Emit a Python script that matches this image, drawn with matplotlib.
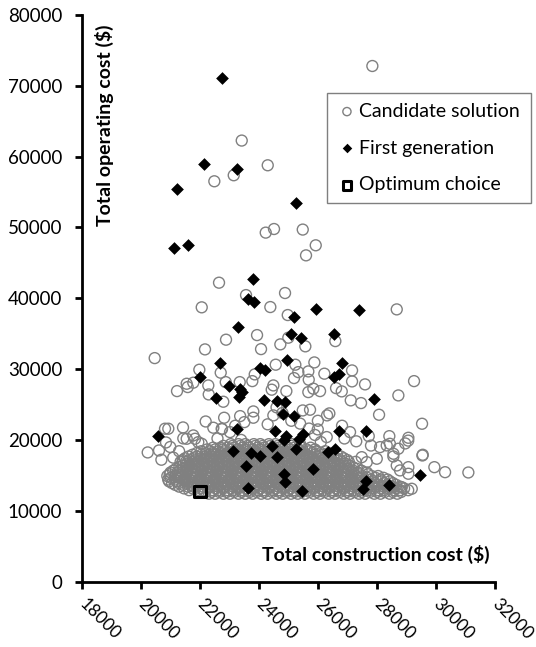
import matplotlib
matplotlib.use("Agg")
import matplotlib.pyplot as plt
import numpy as np

plt.rcParams["font.family"] = ["Lato", "DejaVu Sans"]

# first generation (black diamonds)
gen1_x = [22764, 22154, 23251, 21229, 25250, 21127, 21591, 23814, 23624, 23848,
          25948, 27395, 25203, 23306, 25081, 25430, 26558, 22696, 24966, 26819,
          24051, 24211, 26548, 26707, 22018, 22980, 23363, 23431, 23340, 22540,
          24187, 24607, 24888, 27913, 24831, 25203, 23251, 24549, 26728, 27632,
          20596, 24933, 25488, 25352, 24854, 24447, 23115, 23746, 24051, 24607,
          25261, 26356, 26582, 23567, 25827, 24854, 24888, 29452, 27643, 28421,
          27520, 23635, 25454]
gen1_y = [71120, 58920, 58310, 55390, 53510, 47110, 47580, 42670, 39850, 39420,
          38530, 38390, 37350, 35930, 35000, 34380, 34900, 30900, 31230, 30900,
          30140, 29810, 28870, 29250, 28830, 27550, 27130, 26750, 26100, 25960,
          25620, 25430, 25340, 25760, 23600, 23410, 21520, 21290, 21240, 21240,
          20530, 20530, 20770, 20160, 19920, 19170, 18410, 18130, 17700, 17560,
          18690, 18230, 18690, 16350, 15830, 15160, 14030, 15070, 14130, 13660,
          13040, 13180, 12760]

# candidate solutions, scattered ones
cand_x = [27846, 23421, 24302, 23150, 22493, 24234, 24515, 25488, 25928, 25599,
          22652, 23567, 24888, 22066, 24390, 24980, 28672,
          23940, 22889, 24729, 24999, 25576, 26592, 24075, 22177, 20473, 24573,
          25237, 25881, 21985, 22709, 23861, 25338, 25677, 26220, 27158, 25193,
          25691, 27158, 27598, 29258, 21557, 21781, 21229, 21591, 22289, 22879,
          23353, 23780, 24492, 24933, 25847, 26074, 26616, 22303, 22797, 24437,
          25677, 26809, 27114, 27463, 28727, 28073, 23367, 22825, 23814, 23814,
          24492, 25488, 25735, 26311, 26389, 29529, 20934, 21432, 22459, 22754,
          23509, 25997, 26819, 27090, 27724, 28421, 29065, 21442, 20236, 20619,
          20856, 21839, 29946, 30309, 31098, 29540, 29065, 28727, 28557, 28106,
          28332, 29180, 29060, 28960, 28440, 28560, 29553, 27995, 27656, 27486,
          28672, 28784, 29065, 28841, 28557, 20822, 21557, 21950, 22066, 21781,
          22743, 23024, 24600, 24800, 25100, 25400, 25700, 24300, 23200, 22200,
          26000, 25900, 26300, 26900, 27300, 27800, 26100, 22600, 23400, 21000,
          21300, 21100, 20700]
cand_y = [72800, 62270, 58780, 57370, 56520, 49270, 49780, 49700, 47480, 46060,
          42200, 40450, 40740, 38720, 38760, 37630, 38430,
          34800, 34150, 33490, 34430, 33210, 33950, 32820, 32780, 31550, 30620,
          30620, 30940, 29910, 29490, 29250, 29570, 29670, 29350, 29810, 28730,
          28500, 28260, 27840, 28300, 27930, 28080, 26890, 27460, 27690, 28160,
          28160, 28300, 27690, 26890, 27230, 26890, 27310, 26420, 25390, 27090,
          26750, 26850, 25580, 25200, 26280, 23550, 23360, 23130, 24020, 23130,
          23460, 24160, 24260, 23460, 23740, 22280, 21580, 21760, 21720, 21520,
          22510, 21480, 22000, 21100, 20530, 20530, 20300, 20210, 18230, 18510,
          19640, 20160, 16150, 15440, 15400, 17800, 16150, 18750, 17660, 18980,
          19220, 13100, 19900, 19500, 19450, 18040, 17900, 17340, 16860, 17560,
          16390, 15690, 15220, 13320, 13320, 21580, 20160, 19680, 19450, 20630,
          21580, 21100, 24600, 23800, 22700, 22300, 21600, 22200, 22000, 22600,
          22700, 20700, 20400, 20200, 19800, 19200, 19700, 20200, 20000, 19000,
          18400, 17500, 17200]

# candidate solutions, dense cluster read row by row
blob_rows_y = [12400, 12650, 12900, 13150, 13400, 13650, 13900, 14150, 14400, 14650,
               14900, 15150, 15400, 15650, 15900, 16150, 16400, 16650, 16900, 17150,
               17400, 17650, 17900, 18150, 18400, 18650, 18900, 19150, 19400]
blob_rows_x = [
    [22310, 22520, 22800, 23020, 23310, 23540, 23790, 24080, 24300, 24590, 24810, 25090,
     25320, 25560, 25860, 26070, 26370, 26580, 26880, 27090, 27390, 27600, 27910, 28120,
     28430, 28690],
    [22050, 22180, 22400, 22660, 22910, 23170, 23420, 23690, 23930, 24190, 24450, 24700,
     24950, 25210, 25450, 25720, 25970, 26230, 26480, 26740, 26990, 27250, 27490, 27760,
     28010, 28270, 28540, 28820],
    [21640, 21920, 22130, 22430, 22650, 22940, 23150, 23450, 23660, 23960, 24170, 24470,
     24680, 24980, 25190, 25490, 25700, 26000, 26210, 26510, 26720, 27020, 27230, 27540,
     27740, 28050, 28250, 28560, 28790, 29060],
    [21470, 21760, 22020, 22270, 22540, 22790, 23040, 23300, 23560, 23810, 24060, 24320,
     24580, 24830, 25080, 25340, 25600, 25850, 26100, 26360, 26620, 26870, 27120, 27380,
     27640, 27890, 28140, 28400, 28660, 28920],
    [21300, 21600, 21810, 22110, 22320, 22620, 22830, 23130, 23340, 23640, 23850, 24150,
     24360, 24660, 24870, 25170, 25380, 25680, 25890, 26190, 26400, 26700, 26910, 27210,
     27420, 27720, 27930, 28230, 28470, 28780],
    [21170, 21440, 21700, 21950, 22210, 22460, 22720, 22970, 23230, 23480, 23740, 23990,
     24250, 24500, 24760, 25010, 25270, 25520, 25780, 26030, 26290, 26540, 26800, 27050,
     27310, 27560, 27820, 28080, 28360, 28650],
    [21060, 21290, 21580, 21790, 22090, 22300, 22600, 22810, 23110, 23320, 23620, 23830,
     24130, 24340, 24640, 24850, 25150, 25360, 25660, 25870, 26170, 26380, 26680, 26890,
     27190, 27400, 27700, 27920, 28250, 28540],
    [20960, 21230, 21490, 21740, 22000, 22250, 22510, 22760, 23020, 23270, 23530, 23780,
     24040, 24290, 24550, 24800, 25060, 25310, 25570, 25820, 26080, 26330, 26590, 26840,
     27100, 27350, 27610, 27870, 28160, 28440],
    [20930, 21160, 21450, 21660, 21960, 22170, 22470, 22680, 22980, 23190, 23490, 23700,
     24000, 24210, 24510, 24720, 25020, 25230, 25530, 25740, 26040, 26250, 26550, 26760,
     27060, 27270, 27570, 27800, 28120, 28360],
    [21020, 21290, 21540, 21800, 22050, 22310, 22560, 22820, 23070, 23330, 23580, 23840,
     24090, 24350, 24600, 24860, 25110, 25370, 25620, 25880, 26130, 26390, 26640, 26900,
     27150, 27410, 27670, 27950, 28220],
    [20900, 21170, 21380, 21680, 21890, 22190, 22400, 22700, 22910, 23210, 23420, 23720,
     23930, 24230, 24440, 24740, 24950, 25250, 25460, 25760, 25970, 26270, 26480, 26780,
     26990, 27290, 27510, 27820, 28040],
    [20980, 21270, 21520, 21780, 22030, 22290, 22540, 22800, 23050, 23310, 23560, 23820,
     24070, 24330, 24580, 24840, 25090, 25350, 25600, 25860, 26110, 26370, 26620, 26880,
     27130, 27400, 27700],
    [21010, 21240, 21530, 21750, 22040, 22260, 22550, 22770, 23060, 23280, 23570, 23790,
     24080, 24300, 24590, 24810, 25100, 25320, 25610, 25830, 26120, 26340, 26630, 26850,
     27140, 27360, 27660],
    [21100, 21330, 21590, 21840, 22100, 22350, 22610, 22860, 23120, 23370, 23630, 23880,
     24140, 24390, 24650, 24900, 25160, 25410, 25670, 25920, 26180, 26430, 26690, 26940,
     27200, 27480],
    [21190, 21420, 21710, 21930, 22220, 22440, 22730, 22950, 23240, 23460, 23750, 23970,
     24260, 24480, 24770, 24990, 25280, 25500, 25790, 26010, 26300, 26520, 26810, 27030,
     27330],
    [21310, 21560, 21820, 22070, 22330, 22580, 22840, 23090, 23350, 23600, 23860, 24110,
     24370, 24620, 24880, 25130, 25390, 25640, 25900, 26150, 26410, 26660, 26920, 27190],
    [21430, 21650, 21950, 22160, 22460, 22670, 22970, 23180, 23480, 23690, 23990, 24200,
     24500, 24710, 25010, 25220, 25520, 25730, 26030, 26240, 26540, 26750, 27050],
    [21570, 21820, 22080, 22330, 22590, 22840, 23100, 23350, 23610, 23860, 24120, 24370,
     24630, 24880, 25140, 25390, 25650, 25900, 26160, 26410, 26680, 26930],
    [21350, 21530, 21730, 21950, 22250, 22460, 22760, 22970, 23270, 23480, 23780, 23990,
     24290, 24500, 24800, 25010, 25310, 25520, 25820, 26030, 26330, 26540, 26820, 27050,
     27280],
    [21420, 21650, 21880, 22130, 22390, 22640, 22900, 23150, 23410, 23660, 23920, 24170,
     24430, 24680, 24940, 25190, 25450, 25700, 25960, 26210, 26480, 26740, 27000],
    [21500, 21780, 22040, 22260, 22560, 22770, 23070, 23280, 23580, 23790, 24090, 24300,
     24600, 24810, 25110, 25320, 25620, 25830, 26130, 26360, 26620, 26880],
    [21620, 21900, 22170, 22420, 22680, 22930, 23190, 23440, 23700, 23950, 24210, 24460,
     24720, 24970, 25230, 25480, 25740, 25990, 26260, 26520, 26780],
    [21750, 22050, 22330, 22550, 22850, 23060, 23360, 23570, 23870, 24080, 24380, 24590,
     24890, 25100, 25400, 25610, 25910, 26130, 26380, 26650],
    [21900, 22200, 22470, 22720, 22980, 23230, 23490, 23740, 24000, 24250, 24510, 24760,
     25020, 25270, 25540, 25820, 26100, 26380],
    [22050, 22350, 22630, 22850, 23150, 23360, 23660, 23870, 24170, 24380, 24680, 24890,
     25190, 25400, 25720, 25960, 26250],
    [22250, 22520, 22780, 23030, 23290, 23540, 23800, 24050, 24310, 24560, 24820, 25070,
     25350, 25620, 25900],
    [22450, 22700, 22930, 23160, 23450, 23670, 23960, 24180, 24470, 24690, 24980, 25200,
     25460, 25750],
    [22800, 23110, 23370, 23620, 23880, 24130, 24390, 24640, 24900, 25100, 25380],
    [23050, 23310, 23540, 23830, 24050, 24340, 24560, 24860, 25120, 25400],
]

optimum_x = [22000]
optimum_y = [12700]

for row_y, row_x in zip(blob_rows_y, blob_rows_x):
    cand_x = cand_x + row_x
    cand_y = cand_y + [row_y] * len(row_x)

fig = plt.figure(figsize=(5.36, 6.47), dpi=100)
ax = fig.add_axes([0.1524, 0.1012, 0.7711, 0.8756])

ax.scatter(cand_x, cand_y, s=62, facecolors="none", edgecolors="#808080",
           linewidths=1.0, zorder=2, label="Candidate solution")
ax.scatter(gen1_x, gen1_y, s=42, marker="D", color="black", linewidths=0,
           zorder=3, label="First generation")
ax.scatter(optimum_x, optimum_y, s=70, marker="s", facecolors="none",
           edgecolors="black", linewidths=2.2, zorder=4, label="Optimum choice")

ax.set_xlim(18000, 32000)
ax.set_ylim(0, 80000)
ax.set_xticks(np.arange(18000, 32001, 2000))
ax.set_yticks(np.arange(0, 80001, 10000))
ax.set_xticklabels([str(v) for v in range(18000, 32001, 2000)], rotation=-45,
                   ha="left", va="center", rotation_mode="anchor")

for side in ["top", "right"]:
    ax.spines[side].set_visible(False)
for side in ["left", "bottom"]:
    ax.spines[side].set_linewidth(2.0)
ax.tick_params(axis="both", direction="out", length=5, width=2.0,
               labelsize=13.5, colors="black")
ax.tick_params(axis="x", pad=9, labelsize=12.5)
ax.tick_params(axis="y", pad=9)

ax.text(0.054, 0.805, "Total operating cost ($)", transform=ax.transAxes,
        rotation=90, ha="center", va="center", fontsize=14, fontweight="bold")
ax.text(0.988, 0.047, "Total construction cost ($)", transform=ax.transAxes,
        ha="right", va="center", fontsize=14, fontweight="bold")

leg = ax.legend(loc="upper left", bbox_to_anchor=(0.611, 0.6878, 0.38, 0.1685),
                bbox_transform=fig.transFigure, mode="expand", fontsize=14,
                scatterpoints=1, fancybox=False, framealpha=1, edgecolor="#7f7f7f",
                borderpad=0.5, labelspacing=1.02, handletextpad=0.1,
                handlelength=1.0, borderaxespad=0, markerscale=0.75)
leg.get_frame().set_linewidth(1.0)

fig.savefig("out.png", dpi=100)
